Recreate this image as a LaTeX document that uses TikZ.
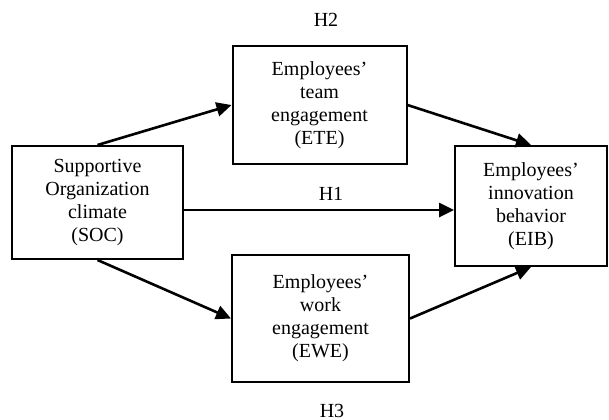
\documentclass[tikz,border=0pt]{standalone}
\usepackage{fontspec}
\setmainfont{Liberation Serif}
\usepackage{tikz}
\usetikzlibrary{positioning,calc,arrows.meta}
\definecolor{line-col}{rgb}{0,0,0}

\tikzset{
varbox/.style={draw=line-col, line width=1pt, align=center, inner sep=0pt,
  font=\fontsize{10pt}{11.5pt}\selectfont},
path-arrow/.style={draw=line-col, line width=1.3pt,
  -{Triangle[length=7.5pt,width=7pt]}},
hyp/.style={font=\fontsize{10pt}{11.5pt}\selectfont, inner sep=0pt}
}

\begin{document}
\begin{tikzpicture}[x=0.5pt,y=-0.5pt]
\useasboundingbox (0,0) rectangle (609,419);%page frame

% the four variables
\node [name=SOC, varbox, minimum width=85.5pt, minimum height=56.5pt] at (97.5,202.5)
{Supportive\\Organization\\climate\\(SOC)};
\node [name=ETE, varbox, minimum width=87pt, minimum height=59pt] at (319.5,105)
{Employees’\\team\\engagement\\(ETE)};
\node [name=EWE, varbox, minimum width=88.5pt, minimum height=63.5pt] at (320.5,318.5)
{Employees’\\work\\engagement\\(EWE)};
\node [name=EIB, varbox, minimum width=76pt, minimum height=60pt] at (531,206)
{Employees’\\innovation\\behavior\\(EIB)};

% paths
\coordinate (h1start) at ($(SOC.east)+(0,-3.75pt)$);
\draw [path-arrow] (SOC.north) -- (ETE.west);
\draw [path-arrow] (ETE.east) -- (EIB.north);
\draw [path-arrow] (h1start) -- (h1start -| EIB.west);
\draw [path-arrow] (SOC.south) -- (EWE.west);
\draw [path-arrow] (EWE.east) -- (EIB.south);

% hypotheses
\node [name=H2, hyp] at (326,19.5) {H2};
\node [name=H1, hyp] at (331,194) {H1};
\node [name=H3, hyp] at (332,411) {H3};

\end{tikzpicture}
\end{document}
